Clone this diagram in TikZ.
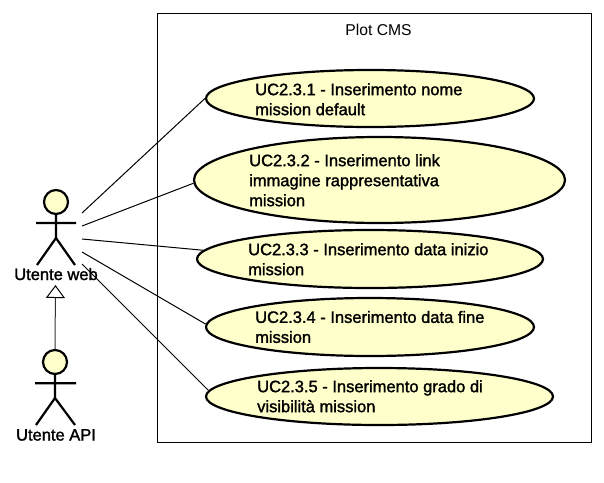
\documentclass[tikz,border=0pt]{standalone}
\usepackage{fontspec}
\setmainfont{Liberation Sans}
\newfontfamily\ucfont[FakeBold=1.6]{Liberation Sans}
\usetikzlibrary{shapes.geometric,arrows.meta}
\definecolor{ucfill}{HTML}{FFFFCC}
\tikzset{
  x=1pt,y=-1pt,
  uc/.style={ellipse,draw=black,line width=2.2pt,fill=ucfill,inner sep=0pt,minimum width=#1},
  uctext/.style={anchor=north west,align=left,inner sep=0pt,font=\ucfont\fontsize{16.5}{20}\selectfont,text=black},
  assoc/.style={draw=black,line width=1pt},
  actorline/.style={draw=black,line width=2.2pt},
  actorhead/.style={circle,draw=black,line width=2.2pt,fill=ucfill,minimum size=24pt,inner sep=0pt},
  actorlabel/.style={anchor=base,inner sep=0pt,font=\ucfont\fontsize{16.5}{18}\selectfont,text=black},
}
\begin{document}
\begin{tikzpicture}
\useasboundingbox (0,0) rectangle (604,482);
\fill[white] (0,0) rectangle (604,482);
\node[draw=black,line width=1pt,minimum width=434pt,minimum height=428.5pt,inner sep=0pt,outer sep=0pt] (sys) at (374,227.75) {};
\node[anchor=base,inner sep=0pt,font=\fontsize{15.7}{18}\selectfont] (title) at (378.5,35) {Plot CMS};

\node[uc=328pt,minimum height=57pt] (e1) at (370,98.5) {};
\node[uc=371pt,minimum height=86pt] (e2) at (379.5,180) {};
\node[uc=346pt,minimum height=58pt] (e3) at (370,259) {};
\node[uc=328pt,minimum height=58pt] (e4) at (370,327) {};
\node[uc=347pt,minimum height=57pt] (e5) at (379.5,396.5) {};

\node[uctext] (t1) at (255,83) {UC2.3.1 - Inserimento nome\\mission default};
\node[uctext] (t2) at (249,154) {UC2.3.2 - Inserimento link\\immagine rappresentativa\\mission};
\node[uctext] (t3) at (248,243) {UC2.3.3 - Inserimento data inizio\\mission};
\node[uctext] (t4) at (255,310.7) {UC2.3.4 - Inserimento data fine\\mission};
\node[uctext] (t5) at (257,380) {UC2.3.5 - Inserimento grado di\\visibilità mission};

% actor web
\node[actorhead] (h1) at (56,202) {};
\coordinate (a1l) at (36,223); \coordinate (a1r) at (76,223);
\coordinate (a1b) at (56,238);
\coordinate (a1ll) at (37,265); \coordinate (a1rl) at (75,265);
\draw[actorline] (h1) -- (a1b) (a1l) -- (a1r) (a1ll) -- (a1b) -- (a1rl);
\node[actorlabel] (l1) at (56,280) {Utente web};
% actor api
\node[actorhead] (h2) at (55,362) {};
\coordinate (a2l) at (35,383.3); \coordinate (a2r) at (76,383.3);
\coordinate (a2b) at (55,398);
\coordinate (a2ll) at (36,425); \coordinate (a2rl) at (75,425);
\draw[actorline] (h2) -- (a2b) (a2l) -- (a2r) (a2ll) -- (a2b) -- (a2rl);
\node[actorlabel] (l2) at (56,440.5) {Utente API};

\coordinate (gen) at (55.5,285);
\draw[draw=black!80,line width=1pt,-{Triangle[open,length=13pt,width=19pt,fill=white,color=black]}] (h2.north) -- (gen);

\coordinate (s1) at (82,213); \coordinate (s2) at (82,226); \coordinate (s3) at (82,239);
\coordinate (s4) at (82,252); \coordinate (s5) at (82,264);
\draw[assoc] (s1) -- (e1.180);
\draw[assoc] (s2) -- (e2.181);
\draw[assoc] (s3) -- (e3.177);
\draw[assoc] (s4) -- (e4.179);
\draw[assoc] (s5) -- (e5.178.5);
\end{tikzpicture}
\end{document}
